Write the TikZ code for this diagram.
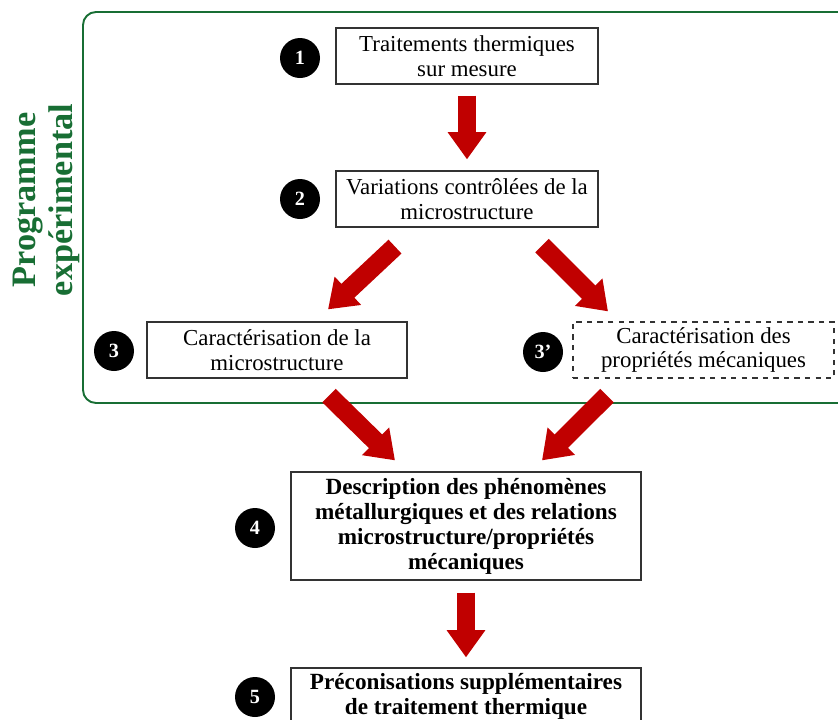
\documentclass[tikz,border=0pt]{standalone}
\usepackage{fontspec}
\setmainfont{Liberation Serif}
\usepackage{tikz}
\usetikzlibrary{arrows.meta,calc}

\definecolor{progGreen}{RGB}{24,110,52}
\definecolor{flowRed}{RGB}{192,0,0}

\begin{document}
\begin{tikzpicture}[
  every node/.style={align=center, inner sep=2pt},
  stepbox/.style={draw=black!80, line width=0.7pt, fill=white, minimum width=5.24cm, minimum height=1.12cm, font=\fontsize{13}{14.2}\selectfont},
  resultbox/.style={stepbox, minimum width=7cm, font=\fontsize{13.2}{14.2}\selectfont\bfseries},
  numdot/.style={circle, fill=black, minimum size=0.8cm, inner sep=0pt, text=white, font=\fontsize{11.5}{12}\selectfont\bfseries},
  bigarrow/.style={draw=flowRed, line width=10.8pt, -{Triangle[length=15.5pt, width=21pt]}}
]
\useasboundingbox (0,0) rectangle (16.76,-14.4);

% cadre du programme experimental
\draw[progGreen, line width=1.1pt, rounded corners=0.26cm] (1.66,-0.24) rectangle (17.3,-8.06);
\node[rotate=90, text=progGreen, font=\fontsize{19.5}{21}\selectfont\bfseries] (prog) at (0.93,-4.0) {Programme\\expérimental};

\node[stepbox] (box1) at (9.34,-1.12) {Traitements thermiques\\sur mesure};
\node[stepbox] (box2) at (9.34,-3.98) {Variations contrôlées de la\\microstructure};
\node[stepbox, minimum width=5.2cm] (box3) at (5.54,-7.0) {Caractérisation de la\\microstructure};
\node[stepbox, dashed, minimum width=5.22cm] (box3b) at (14.07,-7.0) {Caractérisation des\\propriétés mécaniques};
\node[resultbox, minimum height=2.16cm] (box4) at (9.32,-10.52) {Description des phénomènes\\métallurgiques et des relations\\microstructure/propriétés\\mécaniques};
\node[resultbox] (box5) at (9.32,-13.92) {Préconisations supplémentaires\\de traitement thermique};

\node[numdot] (num1) at (6.0,-1.16) {1};
\node[numdot] (num2) at (6.0,-3.98) {2};
\node[numdot] (num3) at (2.28,-7.02) {3};
\node[numdot] (num3b) at (10.86,-7.04) {3’};
\node[numdot] (num4) at (5.1,-10.56) {4};
\node[numdot] (num5) at (5.1,-13.94) {5};

\draw[bigarrow] ($(box1.south)+(0,-0.22)$) -- ($(box2.north)+(0,0.22)$);
\draw[bigarrow] ($(box2.south)+(-1.44,-0.38)$) -- ($(box3.north)+(1.02,0.24)$);
\draw[bigarrow] ($(box2.south)+(1.5,-0.36)$) -- ($(box3b.north)+(-1.91,0.2)$);
\draw[bigarrow] ($(box3.south)+(1.04,-0.34)$) -- ($(box4.north)+(-1.42,0.22)$);
\draw[bigarrow] ($(box3b.south)+(-1.93,-0.34)$) -- ($(box4.north)+(1.52,0.22)$);
\draw[bigarrow] ($(box4.south)+(0,-0.24)$) -- ($(box5.north)+(0,0.2)$);

\end{tikzpicture}
\end{document}
